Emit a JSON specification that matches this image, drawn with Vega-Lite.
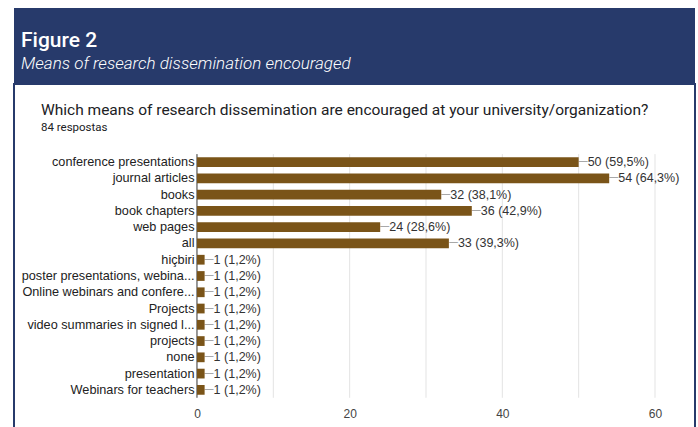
{
  "$schema": "https://vega.github.io/schema/vega-lite/v6.json",
  "background": "white",
  "padding": {"left": 13, "top": 8, "right": 4, "bottom": 0},
  "spacing": 0,
  "config": {"view": {"stroke": null}, "font": "Liberation Sans"},
  "datasets": {
    "responses": [
      {"option": "conference presentations", "count": 50, "label": "50 (59,5%)"},
      {"option": "journal articles", "count": 54, "label": "54 (64,3%)"},
      {"option": "books", "count": 32, "label": "32 (38,1%)"},
      {"option": "book chapters", "count": 36, "label": "36 (42,9%)"},
      {"option": "web pages", "count": 24, "label": "24 (28,6%)"},
      {"option": "all", "count": 33, "label": "33 (39,3%)"},
      {"option": "hiçbiri", "count": 1, "label": "1 (1,2%)"},
      {"option": "poster presentations, webina...", "count": 1, "label": "1 (1,2%)"},
      {"option": "Online webinars and confere...", "count": 1, "label": "1 (1,2%)"},
      {"option": "Projects", "count": 1, "label": "1 (1,2%)"},
      {"option": "video summaries in signed l...", "count": 1, "label": "1 (1,2%)"},
      {"option": "projects", "count": 1, "label": "1 (1,2%)"},
      {"option": "none", "count": 1, "label": "1 (1,2%)"},
      {"option": "presentation", "count": 1, "label": "1 (1,2%)"},
      {"option": "Webinars for teachers", "count": 1, "label": "1 (1,2%)"}
    ],
    "grid": [{"g": 0}, {"g": 10}, {"g": 20}, {"g": 30}, {"g": 40}, {"g": 50}, {"g": 60}]
  },
  "vconcat": [
    {
      "width": 681,
      "height": 75,
      "view": {"fill": "#273a6b", "stroke": null},
      "title": {
        "text": "Figure 2",
        "subtitle": "Means of research dissemination encouraged",
        "anchor": "start",
        "frame": "group",
        "orient": "top",
        "offset": -64,
        "dx": 7,
        "font": "Roboto",
        "fontSize": 21,
        "fontWeight": 500,
        "color": "white",
        "subtitleFont": "Roboto",
        "subtitleFontSize": 17,
        "subtitleFontStyle": "italic",
        "subtitleFontWeight": 300,
        "subtitleColor": "white",
        "subtitlePadding": 5
      },
      "data": {"values": [{}]},
      "mark": {"type": "point", "opacity": 0}
    },
    {
      "width": 681,
      "height": 344,
      "view": {"fill": "white", "stroke": "#273a6b", "strokeWidth": 2},
      "title": {
        "text": "Which means of research dissemination are encouraged at your university/organization?",
        "subtitle": "84 respostas",
        "anchor": "start",
        "frame": "group",
        "orient": "top",
        "offset": -49,
        "dx": 27,
        "font": "Roboto",
        "fontSize": 15.5,
        "fontWeight": 400,
        "color": "#202124",
        "subtitleFont": "Roboto",
        "subtitleFontSize": 11.5,
        "subtitleColor": "#202124",
        "subtitlePadding": 3
      },
      "layer": [
        {
          "data": {"name": "grid"},
          "mark": {"type": "rule", "strokeWidth": 1},
          "encoding": {
            "x": {
              "field": "g",
              "type": "quantitative",
              "scale": {"domain": [-23.97, 65.24], "nice": false, "zero": false},
              "axis": {
                "orient": "bottom",
                "offset": -22,
                "values": [0, 20, 40, 60],
                "grid": false,
                "ticks": false,
                "domain": false,
                "labelFont": "Liberation Sans",
                "labelFontSize": 12,
                "labelColor": "#444444",
                "labelPadding": 2,
                "labelFlush": false,
                "title": null
              }
            },
            "y": {
              "datum": "conference presentations",
              "type": "nominal",
              "bandPosition": -0.32,
              "scale": {
                "domain": ["conference presentations", "journal articles", "books", "book chapters", "web pages", "all", "hiçbiri", "poster presentations, webina...", "Online webinars and confere...", "Projects", "video summaries in signed l...", "projects", "none", "presentation", "Webinars for teachers"],
                "range": [70, 314],
                "paddingInner": 0.4,
                "paddingOuter": 0.2
              },
              "axis": {
                "orient": "left",
                "offset": -183,
                "ticks": false,
                "domain": false,
                "grid": false,
                "labelPadding": 3,
                "labelFont": "Liberation Sans",
                "labelFontSize": 12.7,
                "labelColor": "#222222",
                "labelLimit": 300,
                "title": null
              }
            },
            "y2": {"datum": "Webinars for teachers", "bandPosition": 1.31},
            "color": {"condition": {"test": "datum.g === 0", "value": "#333333"}, "value": "#e3e3e3"}
          }
        },
        {
          "data": {"name": "responses"},
          "mark": {"type": "text", "align": "left", "baseline": "middle", "fontSize": 9, "color": "#666666", "dy": -1},
          "encoding": {
            "y": {"field": "option", "type": "nominal"},
            "x": {"field": "count", "type": "quantitative"},
            "text": {"value": "—"}
          }
        },
        {
          "data": {"name": "responses"},
          "mark": {"type": "bar", "color": "#7a5418"},
          "encoding": {
            "y": {"field": "option", "type": "nominal"},
            "x": {"field": "count", "type": "quantitative"},
            "x2": {"datum": 0}
          }
        },
        {
          "data": {"name": "responses"},
          "mark": {"type": "text", "align": "left", "baseline": "middle", "dx": 9, "font": "Liberation Sans", "fontSize": 12.5, "color": "#333333"},
          "encoding": {
            "y": {"field": "option", "type": "nominal"},
            "x": {"field": "count", "type": "quantitative"},
            "text": {"field": "label"}
          }
        }
      ]
    }
  ]
}
